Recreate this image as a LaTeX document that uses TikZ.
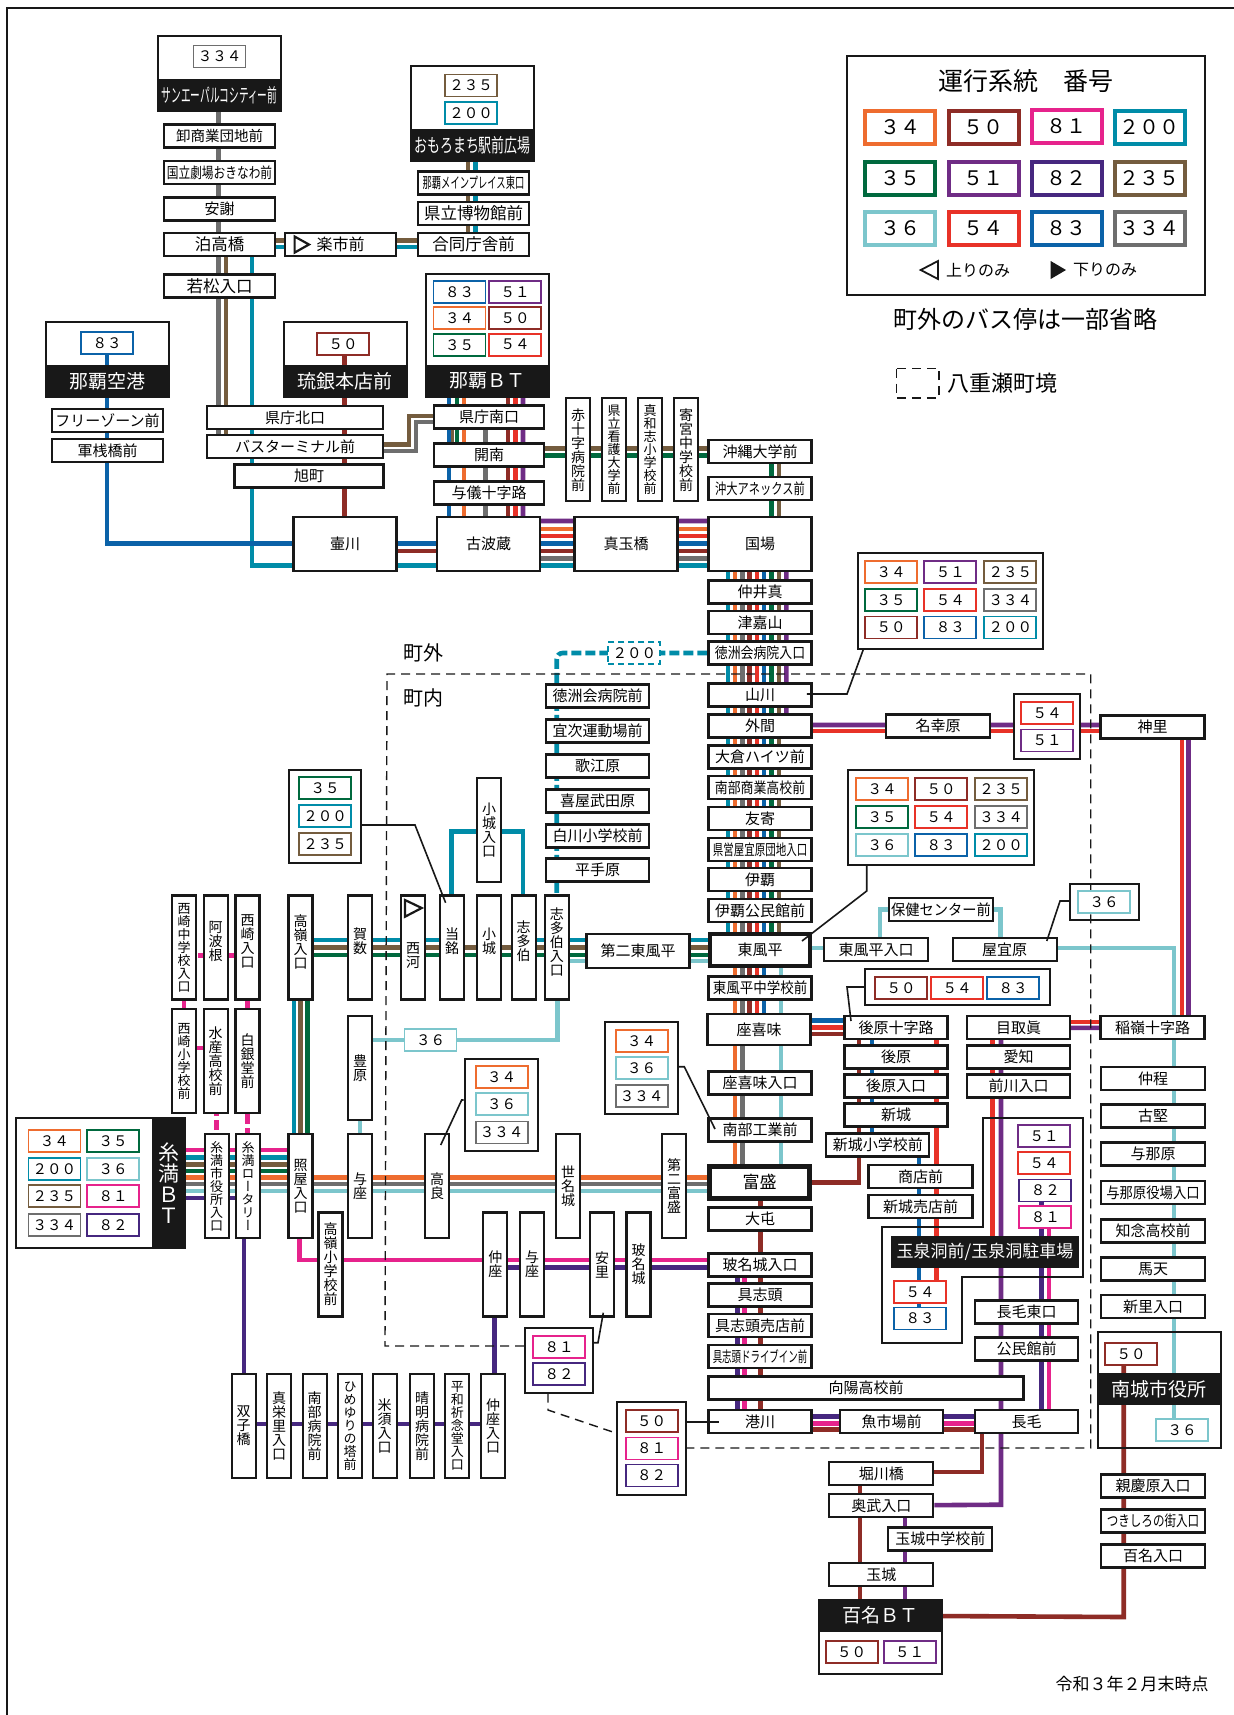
\documentclass[tikz,border=0pt]{standalone}
\usepackage{fontspec}
\usepackage{graphicx}
\setmainfont{Noto Sans CJK JP}
\newfontfamily\tatefont[Vertical=Alternates]{Noto Sans CJK JP}
\usetikzlibrary{backgrounds}
\definecolor{r34}{RGB}{238,108,47}
\definecolor{r35}{RGB}{0,105,62}
\definecolor{r36}{RGB}{124,198,204}
\definecolor{r50}{RGB}{142,44,38}
\definecolor{r51}{RGB}{111,44,133}
\definecolor{r54}{RGB}{232,50,40}
\definecolor{r81}{RGB}{230,35,140}
\definecolor{r82}{RGB}{70,39,127}
\definecolor{r83}{RGB}{11,98,168}
\definecolor{r200}{RGB}{0,140,168}
\definecolor{r235}{RGB}{116,92,62}
\definecolor{r334}{RGB}{110,110,110}
\definecolor{ink}{RGB}{24,24,24}
\newcommand{\stopsize}[1]{\fontsize{#1}{#1}\selectfont}
\newcommand{\slim}[2]{\scalebox{#1}[1]{#2}}
\makeatletter
\newcommand{\tate}[1]{\vbox{\tatefont\baselineskip=1em\@tfor\tatechar:=#1\do{\hbox to 1em{\hfil\tatechar\hfil}}}}
\newcommand{\tateup}[1]{\vbox{\tatefont\baselineskip=1em\@tfor\tatechar:=#1\do{\hbox to 1em{\hfil\tatechar\hfil}}\vskip 6pt}}
\makeatother
\newcommand{\vroutes}[3]{\foreach \xx/\rt in {#3} \draw[route=\rt] (\xx,0 |- #1) -- (\xx,0 |- #2);}
\tikzset{
  wd/.style={minimum width=#1*.5pt},
  hg/.style={minimum height=#1*.5pt},
  fsz/.style={font=\stopsize{#1}},
  stop/.style={draw=ink,line width=1.05pt,fill=white,minimum width=51.5pt,minimum height=11.5pt,inner sep=0pt,font=\stopsize{7.5}},
  vstop/.style={stop,minimum width=12pt,minimum height=52pt,font=\stopsize{7}},
  hub/.style={stop,line width=2.4pt},
  termbox/.style={draw=ink,line width=1pt,minimum width=61.5pt},
  band/.style={draw=ink,fill=ink,text=white,line width=.5pt,minimum width=61.5pt,minimum height=15.5pt,inner sep=0pt,font=\stopsize{9.5}},
  panel/.style={draw=ink,line width=1pt,fill=white,inner sep=0pt},
  badge/.style={draw=r#1,fill=white,line width=.9pt,minimum width=26pt,minimum height=11pt,inner sep=0pt,font=\stopsize{7.25}},
  keybox/.style={draw=r#1,fill=white,line width=2pt,minimum width=35pt,minimum height=16.5pt,inner sep=0pt,font=\stopsize{10}},
  route/.style={draw=r#1,line width=2.3pt},
  routedash/.style={draw=r#1,line width=2.3pt,dash pattern=on 5pt off 2pt},
  leader/.style={draw=ink,line width=.8pt},
  boundary/.style={draw=ink,line width=.7pt,dash pattern=on 4.5pt off 3pt},
  plain/.style={inner sep=0pt},
}
\begin{document}
\begin{tikzpicture}[x=.5pt,y=-.5pt]
\useasboundingbox (0,0) rectangle (1234,1715);
\draw[ink,line width=1pt] (1234,8) -- (7,8) -- (7,1715);

% legend
\node[panel,wd=358,hg=239] (legend) at (1025.8,175.3) {};
\node[plain,fsz=12.5] (legendtitle) at (1025.7,81.5) {運行系統　番号};
\node[keybox=34] (k34) at (900,127) {３４};
\node[keybox=50] (k50) at (983.5,127) {５０};
\node[keybox=81] (k81) at (1066.5,126) {８１};
\node[keybox=200] (k200) at (1149.5,127) {２００};
\node[keybox=35] (k35) at (900,178) {３５};
\node[keybox=51] (k51) at (983.5,178) {５１};
\node[keybox=82] (k82) at (1066.5,178) {８２};
\node[keybox=235] (k235) at (1149.5,178) {２３５};
\node[keybox=36] (k36) at (900,228) {３６};
\node[keybox=54] (k54) at (983.5,228) {５４};
\node[keybox=83] (k83) at (1066.5,228) {８３};
\node[keybox=334] (k334) at (1149.5,228) {３３４};
\draw[ink,line width=.9pt] (938,261) -- (938,279) -- (920.7,270) -- cycle;
\fill[ink] (1050.7,261) -- (1050.7,279) -- (1066,270) -- cycle;
\node[plain,fsz=8] (uponly) at (978,270) {上りのみ};
\node[plain,fsz=8] (downonly) at (1105,270) {下りのみ};
\node[plain,fsz=12] (omitnote) at (1025.7,319) {町外のバス停は一部省略};
\draw[boundary] (896.4,368.5) rectangle (939,398);
\node[plain,fsz=11] (boundarynote) at (1002,382.7) {八重瀬町境};
\node[plain,fsz=10] (outside) at (423,653) {町外};
\node[plain,fsz=10] (inside) at (423,698) {町内};
\node[plain,fsz=8.5] (asof) at (1132,1684) {令和３年２月末時点};

% terminals
\node[termbox,hg=74.6] (saneibox) at (219.5,73.7) {};
\node[band] (sanei) at (219.5,95) {\slim{.51}{サンエーパルコシティー前}};
\node[badge=334] (sanei334) at (219.5,56.5) {３３４};
\node[termbox,hg=94.7] (omorobox) at (472.5,113.4) {};
\node[band] (omoro) at (472.5,145) {\slim{.68}{おもろまち駅前広場}};
\node[badge=235] (omoro235) at (471,85.5) {２３５};
\node[badge=200] (omoro200) at (471,112.7) {２００};
\node[termbox,hg=75] (airbox) at (107,359.5) {};
\node[band] (air) at (107,381) {那覇空港};
\node[badge=83] (air83) at (107,343) {８３};
\node[termbox,hg=75] (ryuginbox) at (345,359.5) {};
\node[band] (ryugin) at (345,381) {琉銀本店前};
\node[badge=50] (ryugin50) at (343,343.7) {５０};
\node[termbox,hg=123] (nahabox) at (487,335.5) {};
\node[band] (naha) at (487,381) {那覇ＢＴ};
\node[badge=83] (naha83) at (459.5,292) {８３};
\node[badge=51] (naha51) at (515,292) {５１};
\node[badge=34] (naha34) at (459.5,318) {３４};
\node[badge=50] (naha50) at (515,318) {５０};
\node[badge=35] (naha35) at (459.5,344.7) {３５};
\node[badge=54] (naha54) at (515,344.7) {５４};
\node[termbox,wd=169,hg=130] (itomanbox) at (100.5,1183) {};
\node[band,wd=33,hg=130,fsz=10.5] (itoman) at (168.5,1183) {\tate{糸満ＢＴ}};
\node[badge=34] (ito34) at (54.4,1141) {３４};
\node[badge=35] (ito35) at (113,1141) {３５};
\node[badge=200] (ito200) at (54.4,1168.7) {２００};
\node[badge=36] (ito36) at (113,1168.7) {３６};
\node[badge=235] (ito235) at (54.4,1196.3) {２３５};
\node[badge=81] (ito81) at (113,1196.3) {８１};
\node[badge=334] (ito334) at (54.4,1224.7) {３３４};
\node[badge=82] (ito82) at (113,1224.7) {８２};
\node[termbox,hg=116] (nanjobox) at (1159,1390) {};
\node[band] (nanjo) at (1159,1389.4) {南城市役所};
\node[badge=50] (nanjo50) at (1131,1353.8) {５０};
\node[badge=36] (nanjo36) at (1182,1430) {３６};
\node[termbox,hg=74.5] (hyakunabox) at (880.5,1637) {};
\node[band] (hyakuna) at (880.5,1615.7) {百名ＢＴ};
\node[badge=50] (hyakuna50) at (851.7,1652) {５０};
\node[badge=51] (hyakuna51) at (909.7,1652) {５１};
\draw[draw=ink,line width=1pt] (983.3,1117.6) -- (1082.7,1117.6) -- (1082.7,1277) -- (962.3,1277) -- (962.3,1343) -- (882,1343) -- (882,1226.7) -- (983.3,1226.7) -- cycle;
\node[band,wd=186.6,fsz=8.5] (gyokusendo) at (985,1252) {玉泉洞前/玉泉洞駐車場};
\node[badge=51] (gyoku51) at (1044,1136.3) {５１};
\node[badge=54] (gyoku54) at (1044,1163) {５４};
\node[badge=82] (gyoku82) at (1045.3,1190.4) {８２};
\node[badge=81] (gyoku81) at (1045.3,1217.3) {８１};
\node[badge=54] (gyokub54) at (920,1291.8) {５４};
\node[badge=83] (gyokub83) at (920,1318.4) {８３};

% stops, north
\node[stop,wd=111,fsz=7.25] (oroshi) at (219.5,136) {卸商業団地前};
\node[stop,wd=111] (kokuritsu) at (219.5,172.5) {\slim{.78}{国立劇場おきなわ前}};
\node[stop,wd=111] (ameku) at (219.5,209) {安謝};
\node[stop,wd=111,fsz=8.25] (tomari) at (219.5,244.5) {泊高橋};
\node[stop,wd=111,fsz=8] (rakuichi) at (340.5,244.5) {楽市前};
\draw[ink,line width=1.1pt] (294.6,236.5) -- (294.6,252.6) -- (309,244.5) -- cycle;
\node[stop,wd=111,fsz=8.25] (goudou) at (473.5,244.5) {合同庁舎前};
\node[stop,wd=111,fsz=8.25] (wakamatsu) at (219.5,286) {若松入口};
\node[stop,wd=111] (mainplace) at (473.5,183) {\slim{.62}{那覇メインプレイス東口}};
\node[stop,wd=111,fsz=8.25] (hakubutsu) at (473.5,213.5) {県立博物館前};
\node[stop,wd=111] (freezone) at (107.5,420.6) {フリーゾーン前};
\node[stop,wd=111] (gunsan) at (107.5,450.6) {軍桟橋前};
\node[stop,wd=176.5] (kitaguchi) at (295,417.5) {県庁北口};
\node[stop,wd=176.5] (busterm) at (295,446.6) {バスターミナル前};
\node[stop,wd=149] (asahi) at (309,476) {旭町};
\node[stop,wd=110.5] (minamiguchi) at (489,417) {県庁南口};
\node[stop,wd=110.5] (kainan) at (489,455) {開南};
\node[stop,wd=110.5] (yogi) at (489,493) {与儀十字路};
\node[stop,wd=103,hg=54] (tsubogawa) at (345,544) {壷川};
\node[stop,wd=103,hg=54] (kohagura) at (488.5,544) {古波蔵};
\node[stop,wd=103,hg=54] (madanbashi) at (626,544) {真玉橋};
\node[stop,wd=103,hg=54] (kokuba) at (760,544) {国場};
\node[vstop,hg=103] (sekijuji) at (578,449.7) {\tate{赤十字病院前}};
\node[vstop,hg=103,fsz=6.5] (kango) at (614,449.7) {\tate{県立看護大学前}};
\node[vstop,hg=103,fsz=6.5] (mawashi) at (650,449.7) {\tate{真和志小学校前}};
\node[vstop,hg=103] (yorimiya) at (686,449.7) {\tate{寄宮中学校前}};
\node[stop] (okidai) at (760,451.5) {沖縄大学前};
\node[stop] (annex) at (760,488.4) {\slim{.75}{沖大アネックス前}};

% stops, trunk
\node[stop] (nakaima) at (760,592) {仲井真};
\node[stop] (tsukazan) at (760,622.5) {津嘉山};
\node[stop] (tokuiri) at (760,653) {\slim{.86}{徳洲会病院入口}};
\node[stop] (yamakawa) at (760,695) {山川};
\node[stop] (hokama) at (760,726) {外間};
\node[stop] (okura) at (760,757) {大倉ハイツ前};
\node[stop] (shogyo) at (760,787.5) {\slim{.86}{南部商業高校前}};
\node[stop] (tomoyose) at (760,818.7) {友寄};
\node[stop] (kenei) at (760,849.7) {\slim{.7}{県営屋宜原団地入口}};
\node[stop] (iha) at (760,879.7) {伊覇};
\node[stop] (ihakomin) at (760,910.3) {伊覇公民館前};
\node[hub,wd=100,hg=32] (kochinda) at (760,950) {東風平};
\node[stop,hg=33.7] (daini) at (638,951) {第二東風平};
\node[stop] (kochichu) at (760,988) {\slim{.9}{東風平中学校前}};
\node[stop,hg=30.6] (zakimi) at (759,1029.5) {座喜味};
\node[stop] (zakimiiri) at (760,1083) {座喜味入口};
\node[stop] (kogyo) at (760,1130) {南部工業前};
\node[hub,wd=100,hg=32,fsz=8.5] (tomori) at (759.5,1182.5) {富盛};
\node[stop] (ofuru) at (760,1219) {大屯};
\node[stop] (hanashiro) at (760,1265) {玻名城入口};
\node[stop] (gushichan) at (760,1295) {具志頭};
\node[stop] (baiten) at (760,1325.7) {具志頭売店前};
\node[stop] (drivein) at (760,1356.3) {\slim{.63}{具志頭ドライブイン前}};
\node[stop,wd=315] (koyo) at (866,1388) {向陽高校前};
\node[stop] (minatogawa) at (760,1421.7) {港川};
\node[stop] (uoichiba) at (891.5,1421.7) {魚市場前};
\node[stop] (nagake) at (1026.7,1421.7) {長毛};
\node[stop] (nagakeE) at (1026.7,1312) {長毛東口};
\node[stop] (komin) at (1026.7,1349) {公民館前};

% stops, 200 branch
\node[badge=200,densely dashed] (tag200) at (634.3,653) {２００};
\node[stop] (tokumae) at (597.5,696) {徳洲会病院前};
\node[stop] (ginoza) at (597.5,731) {宜次運動場前};
\node[stop] (utaebaru) at (597.5,766) {歌江原};
\node[stop] (kyan) at (597.5,801) {喜屋武田原};
\node[stop] (shirakawa) at (597.5,836) {白川小学校前};
\node[stop] (hiratebaru) at (597.5,870) {平手原};

% stops, west row
\node[vstop,fsz=6.5] (nishisaki) at (184,947.5) {\tate{西崎中学校入口}};
\node[vstop] (ahagon) at (215.7,947.5) {\tateup{阿波根}};
\node[vstop] (nishiiri) at (247.5,947.5) {\tateup{西崎入口}};
\node[vstop] (takamine) at (300.5,947.5) {\tateup{高嶺入口}};
\node[vstop] (kakazu) at (360,947.5) {\tateup{賀数}};
\node[vstop] (nishikawa) at (413,947.5) {\vbox{\vskip 8pt\hbox{\tate{西河}}}};
\draw[ink,line width=1.1pt] (405,900) -- (405,916.7) -- (421.7,908) -- cycle;
\node[vstop] (tome) at (452,947.5) {\tateup{当銘}};
\node[vstop] (kogusuku) at (489,947.5) {\tateup{小城}};
\node[vstop] (kogusukuiri) at (489,830) {\tate{小城入口}};
\node[vstop] (shitahaku) at (523.7,947.5) {\tateup{志多伯}};
\node[vstop] (shitahakuiri) at (556.8,947.5) {\tateup{志多伯入口}};
\node[vstop,fsz=6.5] (nishisho) at (184,1061) {\tate{西崎小学校前}};
\node[vstop] (suisan) at (215.7,1061) {\tate{水産高校前}};
\node[vstop] (hakugin) at (247.5,1061) {\tate{白銀堂前}};
\node[vstop] (toyohara) at (360,1068) {\tate{豊原}};
\node[badge=36] (tag36) at (430.5,1040) {３６};
\node[vstop,fsz=6.5] (shiyakusho) at (216.7,1186) {\tate{糸満市役所入口}};
\node[vstop,fsz=6.5] (rotary) at (248,1186) {\tate{糸満ロータリー}};
\node[vstop] (teruya) at (300.5,1186) {\tate{照屋入口}};
\node[vstop] (yoza) at (360,1186) {\tate{与座}};
\node[vstop] (takara) at (437,1186) {\tate{高良}};
\node[vstop] (senagusuku) at (568,1186) {\tate{世名城}};
\node[vstop] (dainitomori) at (674,1186) {\tate{第二富盛}};
\node[vstop] (takashou) at (330.5,1264.5) {\tate{高嶺小学校前}};
\node[vstop] (nakaza) at (495.4,1264.5) {\tate{仲座}};
\node[vstop] (yoza2) at (532,1264.5) {\tate{与座}};
\node[vstop] (asato) at (602,1264.5) {\tate{安里}};
\node[vstop] (hanagusuku) at (638.5,1264.5) {\tate{玻名城}};
\node[vstop] (futago) at (243.7,1426) {\tate{双子橋}};
\node[vstop] (maesato) at (279,1426) {\tate{真栄里入口}};
\node[vstop] (nanbuhosp) at (314.7,1426) {\tate{南部病院前}};
\node[vstop,fsz=6.5] (himeyuri) at (350,1426) {\tate{ひめゆりの塔前}};
\node[vstop] (komesu) at (384.7,1426) {\tate{米須入口}};
\node[vstop] (seimei) at (422,1426) {\tate{晴明病院前}};
\node[vstop,fsz=6.5] (heiwa) at (457.4,1426) {\tate{平和祈念堂入口}};
\node[vstop] (nakazairi) at (493,1426) {\tate{仲座入口}};

% stops, east
\node[stop,wd=104] (meko) at (938,726) {名幸原};
\node[stop,wd=104] (kamizato) at (1152.5,727) {神里};
\node[stop,wd=104] (kochiiri) at (876,949.5) {東風平入口};
\node[stop,wd=104] (yagihara) at (1004.7,949.5) {屋宜原};
\node[stop,wd=104] (hoken) at (941,909.7) {\slim{.95}{保健センター前}};
\node[stop,wd=103] (ushirojuji) at (896,1027.4) {後原十字路};
\node[stop,wd=103] (ushiro) at (896,1057) {後原};
\node[stop,wd=103] (ushiroiri) at (896,1086) {後原入口};
\node[stop,wd=103] (shinjo) at (896,1115) {新城};
\node[stop,wd=103] (shinjosho) at (877.8,1145) {新城小学校前};
\node[stop,wd=104] (shoten) at (920.5,1176.7) {商店前};
\node[stop,wd=104] (shinjobai) at (920.5,1206.7) {新城売店前};
\node[stop,wd=103] (medori) at (1018.6,1027.4) {目取眞};
\node[stop,wd=103] (aichi) at (1018.6,1057) {愛知};
\node[stop,wd=103] (maekawa) at (1018.6,1086) {前川入口};
\node[stop,wd=104] (inamine) at (1152.5,1027.4) {稲嶺十字路};
\node[stop,wd=104] (nakahodo) at (1153,1078.4) {仲程};
\node[stop,wd=104] (furugen) at (1153,1116) {古堅};
\node[stop,wd=104] (yonabaru) at (1153,1154) {与那原};
\node[stop,wd=104] (yonayaku) at (1153,1192.7) {\slim{.89}{与那原役場入口}};
\node[stop,wd=104] (chinen) at (1153,1231) {知念高校前};
\node[stop,wd=104] (baten) at (1153,1269) {馬天};
\node[stop,wd=104] (shinzato) at (1153,1306.5) {新里入口};
\node[stop,wd=104] (shinkei) at (1153,1486) {親慶原入口};
\node[stop,wd=104] (tsukishiro) at (1153,1521) {\slim{.77}{つきしろの街入口}};
\node[stop,wd=104] (hyakunairi) at (1153,1556) {百名入口};
\node[stop,wd=104] (horikawa) at (881.3,1473.7) {堀川橋};
\node[stop,wd=104] (oujima) at (881.3,1505.5) {奥武入口};
\node[stop,wd=104] (tamachu) at (940.3,1539) {玉城中学校前};
\node[stop,wd=104] (tamagusuku) at (881.3,1574.5) {玉城};

% panels
\node[panel,wd=72,hg=93] (pnltome) at (325,816) {};
\node[badge=35] (tome35) at (325,788) {３５};
\node[badge=200] (tome200) at (325,816) {２００};
\node[badge=235] (tome235) at (325,844) {２３５};
\node[panel,wd=73,hg=92] (pnltakara) at (501,1104.5) {};
\node[badge=34] (takara34) at (501.7,1076.7) {３４};
\node[badge=36] (takara36) at (501.7,1104) {３６};
\node[badge=334] (takara334) at (501.7,1132.5) {３３４};
\node[panel,wd=73,hg=92] (pnlkogyo) at (641,1068) {};
\node[badge=34] (kogyo34) at (641.7,1040.8) {３４};
\node[badge=36] (kogyo36) at (641.7,1068.3) {３６};
\node[badge=334] (kogyo334) at (641.7,1095.8) {３３４};
\node[panel,wd=185,hg=96] (pnlyama) at (950,600.5) {};
\foreach \bx/\by/\br/\bt in {891/572/34/３４,950.3/572/51/５１,1010.3/572/235/２３５,891/600/35/３５,950.3/600/54/５４,1010.3/600/334/３３４,891/627.5/50/５０,950.3/627.5/83/８３,1010.3/627.5/200/２００}
  \node[badge=\br] (yama\br) at (\bx,\by) {\bt};
\node[panel,wd=186,hg=95] (pnlkochi) at (941,817.3) {};
\foreach \bx/\by/\br/\bt in {882/789.3/34/３４,941/789.3/50/５０,1001/789.3/235/２３５,882/817.3/35/３５,941/817.3/54/５４,1001/817.3/334/３３４,882/845/36/３６,941/845/83/８３,1001/845/200/２００}
  \node[badge=\br] (kochi\br) at (\bx,\by) {\bt};
\node[panel,wd=185,hg=36] (pnlushiro) at (957.5,987) {};
\node[badge=50] (ushiro50) at (901,988) {５０};
\node[badge=54] (ushiro54) at (957,988) {５４};
\node[badge=83] (ushiro83) at (1013,988) {８３};
\node[panel,wd=66,hg=65] (pnlmeko) at (1047,726.5) {};
\node[badge=54] (meko54) at (1047,713) {５４};
\node[badge=51] (meko51) at (1047,740.5) {５１};
\node[panel,fill=none,wd=69,hg=36] (pnlyagi) at (1104.4,902) {};
\node[badge=36] (yagi36) at (1104,902) {３６};
\node[panel,wd=68,hg=65] (pnlasato) at (559,1360) {};
\node[badge=81] (asato81) at (559,1347) {８１};
\node[badge=82] (asato82) at (559,1374) {８２};
\node[panel,wd=69,hg=93] (pnlminato) at (651.3,1448.3) {};
\node[badge=50] (minato50) at (651.7,1421) {５０};
\node[badge=81] (minato81) at (651.7,1448.4) {８１};
\node[badge=82] (minato82) at (651.7,1475.5) {８２};

% leaders
\draw[leader] (pnltome.east |- 0,825) -- (415,825) -- (445.6,902.7);
\draw[leader] (pnltakara.west |- 0,1100) -- (461.7,1100) -- (440.7,1145);
\draw[leader] (pnlkogyo.east |- 0,1066.7) -- (684.3,1066.7) -- (715,1129);
\draw[leader] (863.3,0 |- pnlyama.south) -- (847,694) -- (806.8,694);
\draw[leader] (866.7,0 |- pnlkochi.south) -- (866.7,891) -- (802,941);
\draw[leader] (pnlushiro.west) -- (847,987) -- (851,1021);
\draw[leader] (pnlyagi.west |- 0,901) -- (1060,901) -- (1046.8,941);
\draw[leader] (603.3,1312.7) -- (598,1342.7) -- (pnlasato.east |- 0,1342.7);
\draw[leader] (pnlminato.east |- 0,1421.7) -- (719,1421.7);

\begin{scope}[on background layer]
  \fill[white] (0,0) rectangle (1234,1715);
  % routes
  \draw[route=334] (218.7,0 |- sanei) -- (218.7,450.8) -- (416,450.8) -- (416,422) -- (485.6,422) -- (485.6,558.3) -- (742.3,558.3) -- (742.3,1184) -- (itoman.center |- 0,1184);
  \draw[route=235] (467.8,0 |- omoro) -- (467.8,240.3) -- (226,240.3) -- (226,444.7) -- (409,444.7) -- (409,416) -- (452,416) -- (452,448.5) -- (779,448.5) -- (779,947.7) -- (300.5,947.7) -- (300.5,1164.3) -- (itoman.center |- 0,1164.3);
  \draw[route=200] (475.3,0 |- omoro) -- (475.3,246.8) -- (251.9,246.8) -- (251.9,565.6) -- (728,565.6) -- (728,940) -- (523,940) -- (523,831.7) -- (451.5,831.7) -- (451.5,940) -- (293.8,940) -- (293.8,1157.3) -- (itoman.center |- 0,1157.3);
  \draw[route=35] (457,0 |- naha) -- (457,455.4) -- (771.7,455.4) -- (771.7,955) -- (307.2,955) -- (307.2,1171) -- (itoman.center |- 0,1171);
  \draw[route=34] (463.8,0 |- naha) -- (463.8,529) -- (735,529) -- (735,1177.7) -- (itoman.center |- 0,1177.7);
  \draw[route=50] (344.4,0 |- ryugin50) -- (344.4,551) -- (749.3,551) -- (749.3,1034) -- (858.8,1034) -- (858.8,1182.7) -- (760.6,1182.7) -- (760.6,1429.3) -- (982,1429.3) -- (982,1471.8) -- (860,1471.8) -- (860,0 |- hyakuna);
  \draw[route=50] (1123.7,0 |- nanjo50) -- (1123.7,1617) -- (hyakuna);
  \draw[route=54] (515.6,0 |- naha) -- (515.6,536) -- (757,536) -- (757,1027.5) -- (936.5,1027.5) -- (936.5,0 |- gyokub54);
  \draw[route=54] (757,731) -- (1181.9,731) -- (1181.9,1021.8) -- (992.7,1021.8) -- (992.7,0 |- gyokusendo);
  \draw[route=83] (106.8,0 |- air83) -- (106.8,543.7) -- (764,543.7) -- (764,1020.7) -- (872,1020.7) -- (872,1145) -- (919,1145) -- (919,0 |- gyokub83);
  \vroutes{naha}{kohagura}{448.8/83,508/50}
  \draw[route=51] (523,0 |- naha) -- (523,521) -- (786.3,521) -- (786.3,725) -- (1188.5,725) -- (1188.5,1027.9) -- (1001,1027.9) -- (1001,1504.7) -- (oujima);
  \vroutes{oujima}{hyakuna}{905/51}
  \draw[route=81] (itoman.center |- 0,1150) -- (299.7,1150) -- (299.7,1260) -- (744.6,1260) -- (744.6,1423.3) -- (1049,1423.3) -- (1049,0 |- gyoku81);
  \draw[route=82] (itoman.center |- 0,1198) -- (244,1198) -- (244,1424) -- (494.6,1424) -- (494.6,1267.7) -- (737.5,1267.7) -- (737.5,1416.7) -- (1041.7,1416.7) -- (1041.7,0 |- gyoku82);
  \draw[route=36] (itoman.center |- 0,1191) -- (781,1191) -- (781,948) -- (880,948) -- (880,909.7) -- (1000.6,909.7) -- (1000.6,948) -- (1174,948) -- (1174,0 |- nanjo36);
  \draw[route=36] (708,961) -- (557.5,961) -- (557.5,1040) -- (360,1040) -- (360,0 |- yoza);
  % partial-service parts
  \draw[routedash=200,rounded corners=3pt] (tokuiri) -- (556.7,653) -- (556.7,0 |- shitahakuiri);
  \draw[routedash=81] (216.7,0 |- shiyakusho) -- (216.7,0 |- suisan);
  \draw[route=81] (suisan.center |- 0,1048) -- (nishisho.center |- 0,1048);
  \draw[routedash=81] (nishisho) -- (nishisaki);
  \draw[routedash=81] (nishisaki.center |- 0,955.7) -- (nishiiri.center |- 0,955.7);
  \draw[routedash=81] (nishiiri) -- (hakugin);
  \draw[routedash=81] (hakugin) -- (247.5,0 |- rotary);
  % town boundary
  \draw[boundary] (pnlasato.west |- 0,1346) -- (385,1346) -- (387,674) -- (1090.7,674) -- (1090.7,1448) -- (pnlminato.east |- 0,1448);
  \draw[boundary] (548,0 |- pnlasato.south) -- (548,1410) -- (pnlminato.west |- 0,1433);
\end{scope}
\end{tikzpicture}
\end{document}
